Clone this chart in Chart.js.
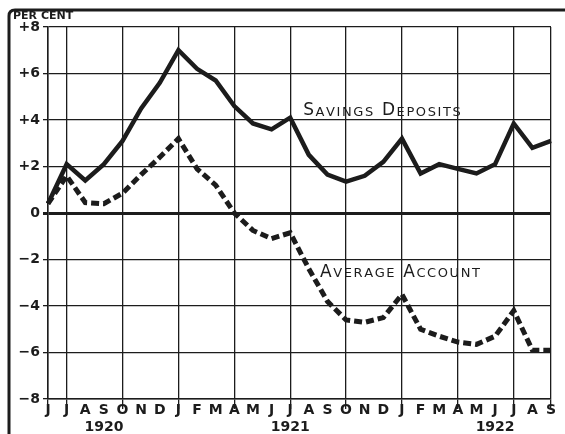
<!DOCTYPE html>
<html>
<head>
<meta charset="utf-8">
<script src="https://cdn.jsdelivr.net/npm/chart.js@4/dist/chart.umd.min.js"></script>
<style>
  html, body { margin: 0; padding: 0; background: #fff; }
  #wrap { width: 565px; height: 434px; }
</style>
</head>
<body>
<div id="wrap"><canvas id="chart" width="565" height="434"></canvas></div>
<script>
// --- DATA ---
// months June 1920 .. September 1922
const months = ['J','J','A','S','O','N','D','J','F','M','A','M','J','J','A','S','O','N','D','J','F','M','A','M','J','J','A','S'];
const yearLabels = { 3: '1920', 13: '1921', 24: '1922' };
const savingsDeposits = [0.4, 2.1, 1.4, 2.1, 3.1, 4.5, 5.6, 7.0, 6.2, 5.7, 4.6, 3.85, 3.6, 4.1,
                         2.5, 1.65, 1.35, 1.6, 2.2, 3.2, 1.7, 2.1, 1.9, 1.7, 2.1, 3.85, 2.8, 3.1];
const averageAccount = [0.4, 1.6, 0.45, 0.4, 0.85, 1.65, 2.4, 3.2, 1.9, 1.2, 0.0, -0.75, -1.1, -0.85,
                        -2.4, -3.8, -4.6, -4.7, -4.5, -3.5, -5.0, -5.3, -5.55, -5.65, -5.3, -4.2, -5.9, -5.9];
const yTicks = [-8, -6, -4, -2, 0, 2, 4, 6, 8];

const ink = '#1c1c1c';
const labelFont = 'DejaVu Sans';

// --- PLUGINS: frame, "PER CENT", line captions ---
const framePlugin = {
  id: 'frame',
  beforeDraw(chart) {
    const ctx = chart.ctx;
    ctx.save();
    ctx.fillStyle = '#fff';
    ctx.fillRect(0, 0, chart.width, chart.height);
    ctx.strokeStyle = ink;
    ctx.lineWidth = 3;
    ctx.beginPath();
    ctx.moveTo(9, 434);
    ctx.lineTo(9, 16);
    ctx.quadraticCurveTo(9, 10, 15, 10);
    ctx.lineTo(565, 10);
    ctx.stroke();
    ctx.restore();
  },
  afterDraw(chart) {
    const ctx = chart.ctx;
    const x = chart.scales.x, y = chart.scales.y;
    ctx.save();
    ctx.fillStyle = ink;
    ctx.textBaseline = 'middle';
    ctx.textAlign = 'left';
    ctx.font = 'bold 11px "' + labelFont + '"';
    ctx.fillText('PER CENT', 13, 16.5);

    // captions anchored to data positions
    drawSmallCaps(ctx, 'Savings Deposits', x.getPixelForValue(13.7), y.getPixelForValue(4.4));
    drawSmallCaps(ctx, 'Average Account', x.getPixelForValue(14.6), y.getPixelForValue(-2.55));
    ctx.restore();
  }
};

function drawSmallCaps(ctx, text, x0, yMid) {
  let cx = x0;
  for (const ch of text) {
    const big = ch !== ch.toLowerCase() || ch === ' ';
    ctx.font = (big ? '17px ' : '13px ') + '"' + labelFont + '"';
    ctx.fillText(ch.toUpperCase(), cx, yMid + (big ? 0 : 1.5));
    cx += ctx.measureText(ch.toUpperCase()).width + 1.6;
  }
}

new Chart(document.getElementById('chart'), {
  type: 'line',
  data: {
    labels: months.map((m, i) => yearLabels[i] ? [m, yearLabels[i]] : m),
    datasets: [
      {
        label: 'Savings Deposits',
        data: savingsDeposits,
        borderColor: ink,
        borderWidth: 4.5,
        pointRadius: 0,
        tension: 0,
        borderJoinStyle: 'miter'
      },
      {
        label: 'Average Account',
        data: averageAccount,
        borderColor: ink,
        borderWidth: 5,
        borderDash: [8, 4],
        pointRadius: 0,
        tension: 0
      }
    ]
  },
  options: {
    responsive: false,
    animation: false,
    layout: { padding: { left: 0, right: 14, top: 27, bottom: 0 } },
    plugins: { legend: { display: false }, tooltip: { enabled: false } },
    scales: {
      x: {
        offset: false,
        afterFit(scale) { scale.height = 35; },
        border: { display: true, color: ink, width: 1.5 },
        grid: {
          color: c => (c.index % 3 === 1 || c.index === 27 || c.index === 0) ? ink : 'rgba(0,0,0,0)',
          lineWidth: 1.3,
          tickLength: 10,
          drawOnChartArea: true
        },
        ticks: {
          color: ink,
          autoSkip: false,
          maxRotation: 0,
          padding: -7,
          font: { family: labelFont, size: 14, weight: 'bold' },
          lineHeight: 1.05
        }
      },
      y: {
        min: -8,
        max: 8,
        afterFit(scale) { scale.width = 48; },
        afterBuildTicks(scale) { scale.ticks = yTicks.map(v => ({ value: v })); },
        border: { display: true, color: ink, width: 1.5 },
        grid: {
          color: ink,
          lineWidth: c => c.tick && c.tick.value === 0 ? 3 : 1.3,
          tickLength: 5
        },
        ticks: {
          color: ink,
          padding: 3,
          font: { family: labelFont, size: 14, weight: 'bold' },
          callback: v => v > 0 ? '+' + v : (v < 0 ? '\u2212' + Math.abs(v) : '0')
        }
      }
    }
  },
  plugins: [framePlugin]
});
</script>
</body>
</html>
